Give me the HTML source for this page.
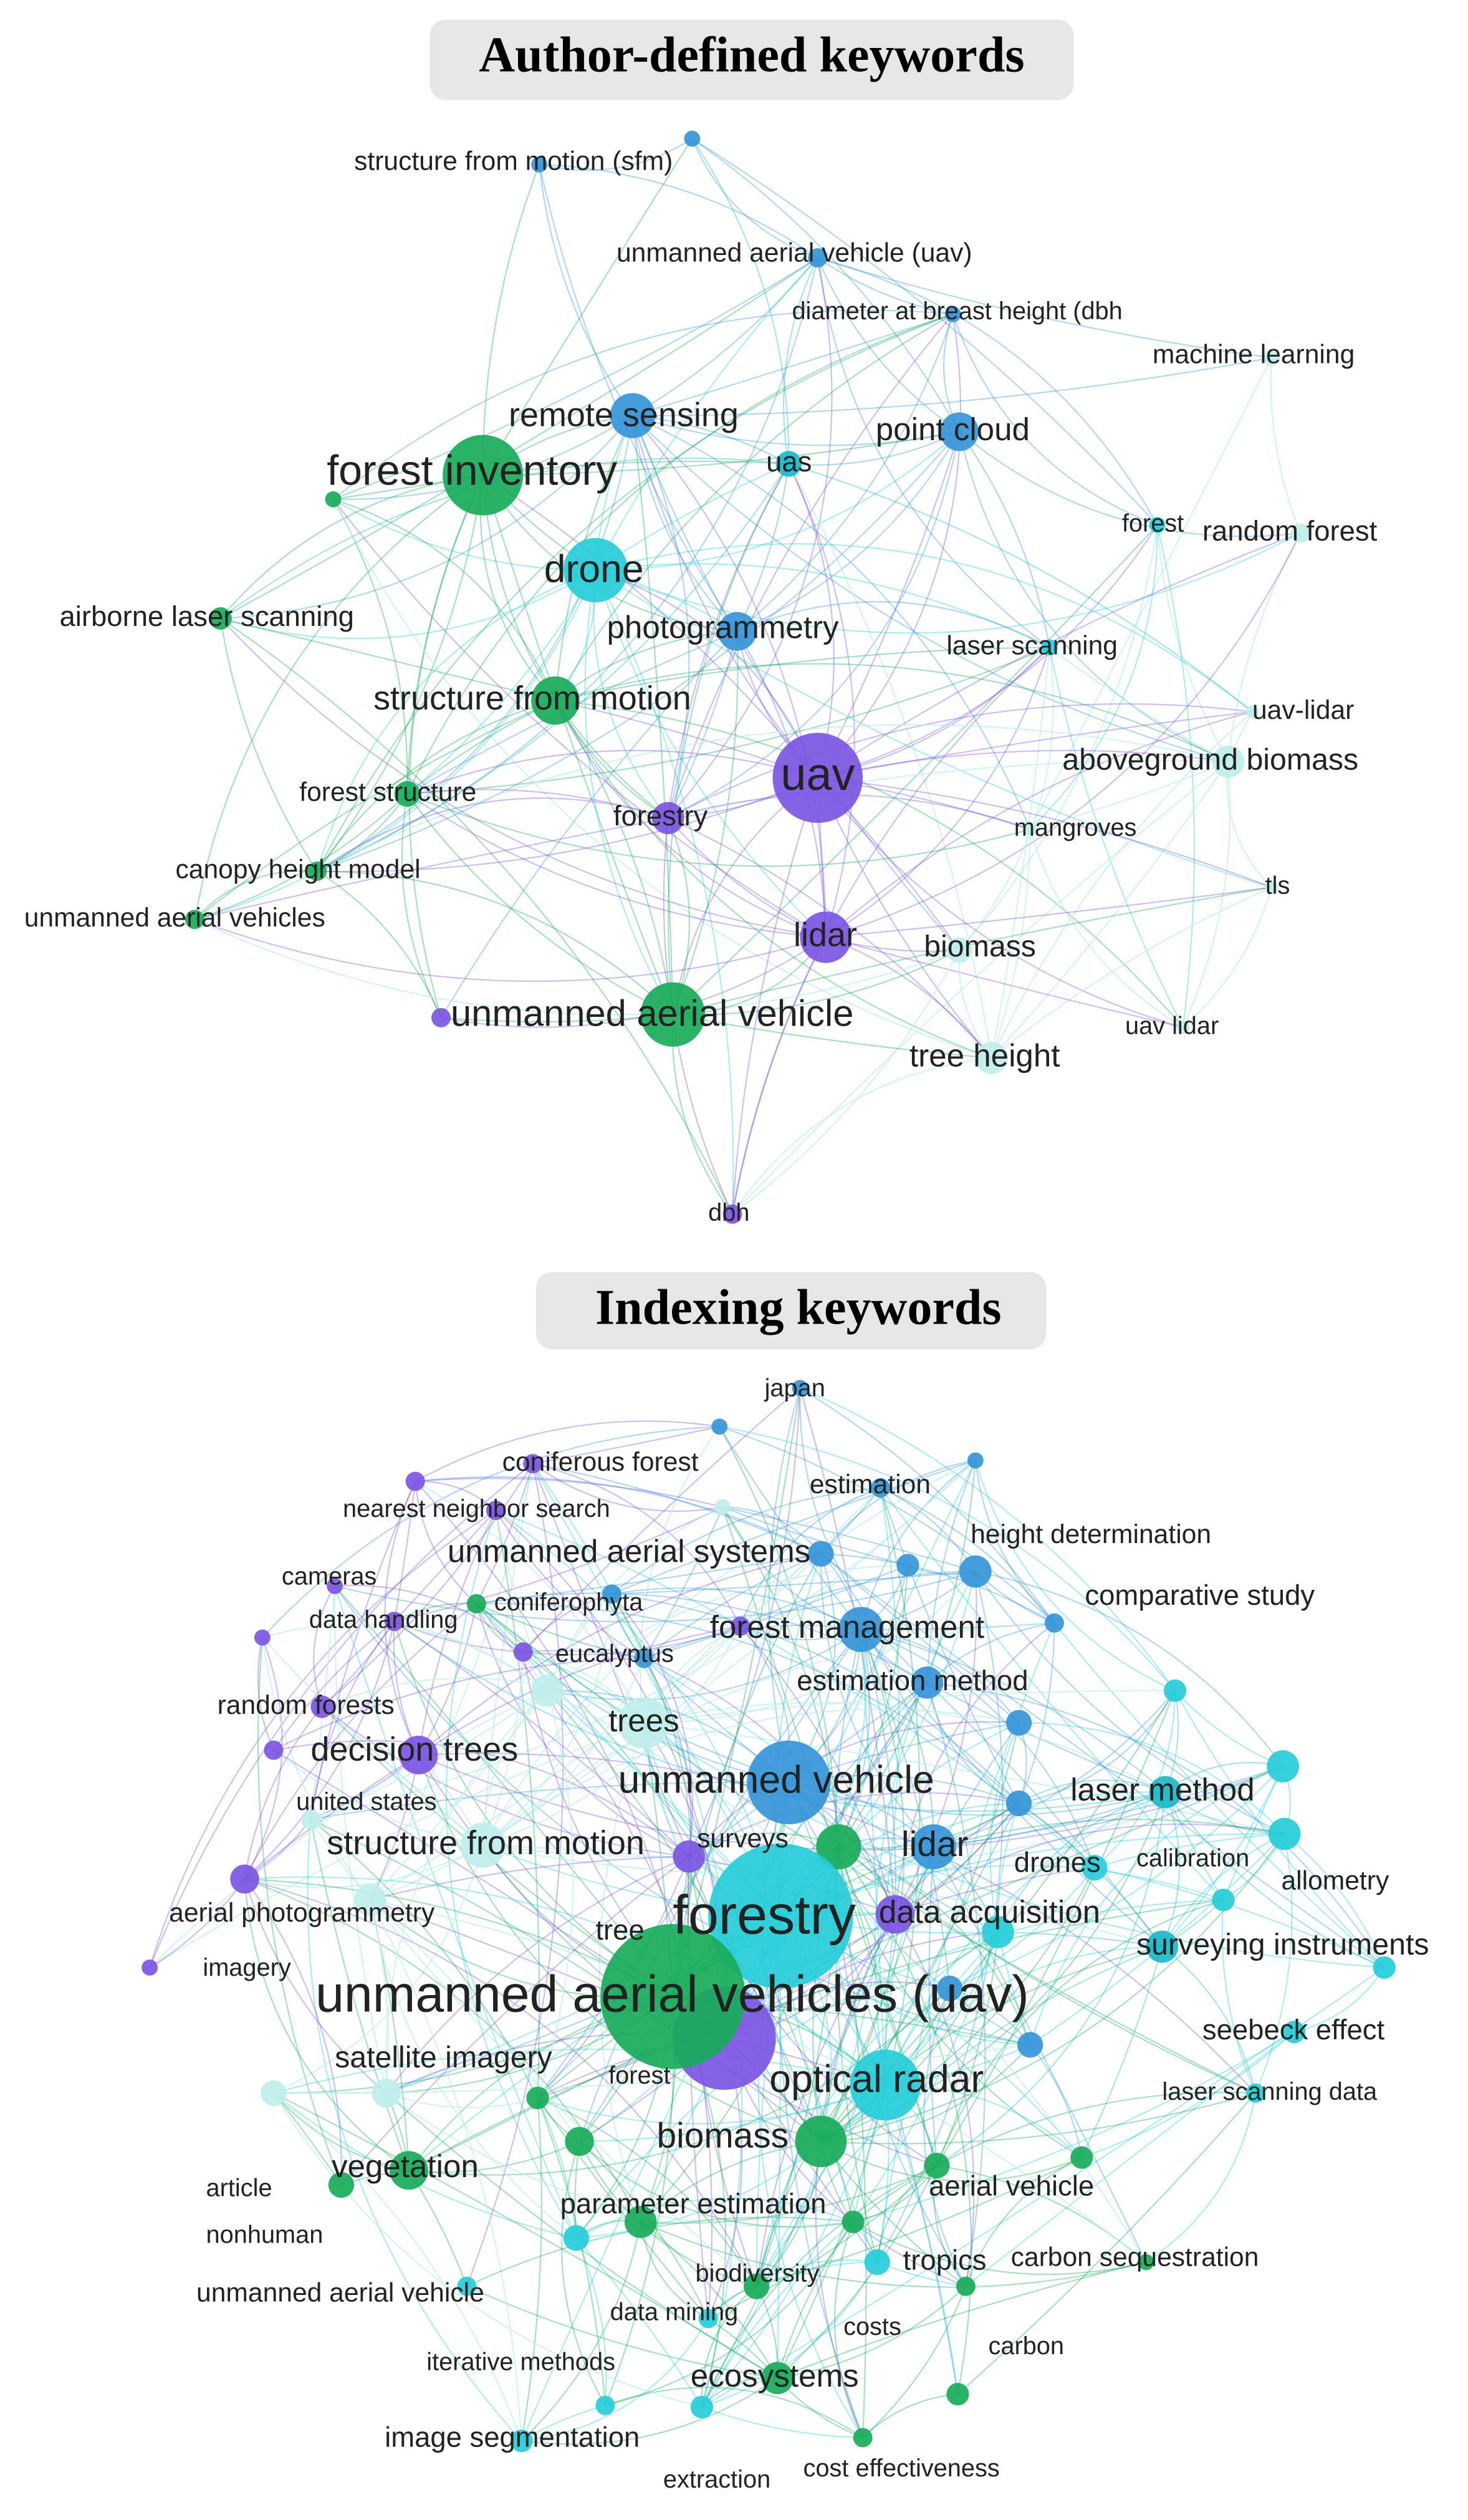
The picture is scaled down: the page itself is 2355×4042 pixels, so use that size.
<!DOCTYPE html>
<html><head><meta charset="utf-8">
<style>
html,body{margin:0;padding:0;background:#fff;}
svg{display:block;}
text{font-family:"Liberation Sans",sans-serif;fill:#222;dominant-baseline:middle;}
.t{font-family:"Liberation Serif",serif;font-weight:bold;fill:#000;}
</style></head>
<body>
<svg id="s" width="2355" height="4042" viewBox="0 0 912 1565" xmlns="http://www.w3.org/2000/svg">
<rect x="267" y="12" width="400" height="50" rx="10" fill="#e6e6e6"/>
<text class="t" x="467" y="37" font-size="31" text-anchor="middle">Author-defined keywords</text>
<rect x="333" y="790" width="317" height="48" rx="10" fill="#e6e6e6"/>
<text class="t" x="496" y="815" font-size="31" text-anchor="middle">Indexing keywords</text>
<g id="edges" fill="none"></g>
<g id="nodes"></g>
<g id="labels"></g>
</svg>
<script>
(function(){
var C={p:"#7c55e3",b:"#3595d8",t:"#1ab9c9",c:"#25cdd9",g:"#18ab5a",l:"#bfeeea",lc:"#9fe2ea"};
var topN=[
[335,102,5,'b'],[430,86,5,'b'],[508,160,6,'b'],[592,195,5,'b'],[790,222,5,'l'],
[393,258,14,'b'],[596,268,12,'b'],[300,295,25,'g'],[490,288,8,'t'],[207,310,5,'g'],
[719,326,5,'c'],[808,331,6,'l'],[370,354,20,'c'],[137,384,7,'g'],[458,392,12,'b'],
[652,402,5,'c'],[345,435,15,'g'],[778,442,4,'l'],[763,473,10,'l'],[508,483,28,'p'],
[253,493,8,'g'],[415,508,10,'p'],[640,515,4,'l'],[197,541,6,'g'],[790,551,4,'l'],
[121,571,6,'g'],[513,582,16,'p'],[596,590,8,'l'],[418,630,20,'g'],[274,632,6,'p'],
[735,638,4,'l'],[616,657,10,'l'],[455,754,6,'p']];
var botN=[
[497,862,5,'b'],[331,909,6,'p'],[447,886,5,'b'],[606,907,5,'b'],[449,936,5,'l'],
[547,924,6,'b'],[308,938,6,'p'],[258,920,6,'p'],[606,976,10,'b'],[510,965,8,'b'],
[564,972,7,'b'],[208,985,5,'p'],[296,996,6,'g'],[655,1008,6,'b'],[245,1007,6,'p'],
[535,1012,14,'b'],[325,1026,6,'p'],[163,1017,5,'p'],[576,1045,10,'b'],[200,1060,7,'p'],
[400,1070,16,'l'],[260,1090,12,'p'],[170,1087,6,'p'],[193,1130,6,'l'],[490,1107,26,'b'],
[724,1113,10,'t'],[797,1097,10,'c'],[798,1139,10,'c'],[300,1146,14,'l'],[428,1153,10,'p'],
[580,1147,14,'b'],[521,1147,14,'g'],[485,1190,45,'c'],[556,1189,12,'p'],[152,1167,9,'p'],
[722,1209,10,'t'],[93,1222,5,'p'],[418,1240,45,'g'],[450,1266,32,'p'],[804,1262,7,'c'],
[550,1295,22,'c'],[334,1303,7,'g'],[510,1330,16,'g'],[254,1348,12,'g'],[212,1357,8,'g'],
[582,1345,8,'g'],[398,1380,10,'g'],[358,1390,8,'c'],[712,1405,5,'g'],[545,1405,8,'c'],
[595,1487,7,'g'],[483,1477,10,'g'],[324,1516,7,'c'],[536,1514,6,'g'],[436,1495,7,'c'],
[376,1494,6,'c'],[633,1070,8,'b'],[633,1120,8,'b'],[730,1050,7,'c'],[760,1180,7,'c'],
[860,1222,7,'c'],[672,1340,7,'g'],[780,1300,6,'c'],[230,1180,10,'l'],[170,1300,8,'l'],
[240,1300,9,'l'],[340,1050,10,'l'],[620,1200,10,'c'],[640,1270,8,'b'],[470,1420,8,'g'],
[440,1440,6,'c'],[600,1420,6,'g'],[400,1030,6,'b'],[460,1010,6,'p'],[380,990,6,'b'],
[680,1160,8,'c'],[360,1330,9,'g'],[290,1420,6,'c'],[530,1380,7,'g'],[590,1235,8,'b']];
var tl=[
["structure from motion (sfm)",220,101,15],["unmanned aerial vehicle (uav)",383,158,15],
["diameter at breast height (dbh",492,194,14],["machine learning",716,221,15],
["remote sensing",316,259,19],["point cloud",544,268,18],["forest inventory",203,294,24],
["uas",476,288,16],["forest",697,326,14],["random forest",747,331,16],["drone",338,355,22],
["airborne laser scanning",37,384,16],["photogrammetry",377,391,18],["laser scanning",588,402,15],
["structure from motion",232,435,19],["uav-lidar",778,442,15],["aboveground biomass",660,473,17],
["uav",485,483,26],["forest structure",186,493,15],["forestry",381,508,16],["mangroves",630,515,14],
["canopy height model",109,541,15],["tls",786,551,14],["unmanned aerial vehicles",15,571,15],
["lidar",493,582,19],["biomass",574,589,17],["unmanned aerial vehicle",280,631,21],
["uav lidar",699,638,14],["tree height",565,657,18],["dbh",440,754,14]];
var bl=[
["japan",475,863,14],["coniferous forest",312,909,15],["estimation",503,923,15],
["nearest neighbor search",213,938,14],["height determination",603,954,15],
["unmanned aerial systems",278,965,18],["cameras",175,980,14],["coniferophyta",307,996,14],
["comparative study",674,992,16],["data handling",192,1007,14],["forest management",441,1012,18],
["eucalyptus",345,1028,14],["estimation method",495,1045,16],["random forests",135,1060,15],
["trees",378,1070,18],["decision trees",193,1088,19],["united states",184,1120,14],
["unmanned vehicle",384,1107,22],["laser method",665,1113,18],["structure from motion",203,1146,19],
["surveys",433,1143,15],["lidar",560,1147,20],["drones",630,1158,16],["calibration",706,1155,14],
["allometry",796,1169,15],["forestry",418,1192,31],["data acquisition",546,1189,18],
["aerial photogrammetry",105,1189,15],["tree",370,1200,16],["surveying instruments",706,1209,17],
["imagery",126,1223,14],["unmanned aerial vehicles (uav)",196,1241,29],["seebeck effect",747,1262,16],
["satellite imagery",208,1279,17],["forest",378,1290,14],["optical radar",478,1293,22],
["laser scanning data",722,1300,14],["biomass",408,1328,20],["vegetation",206,1347,18],
["article",128,1360,14],["nonhuman",128,1389,14],["aerial vehicle",577,1359,16],
["parameter estimation",348,1370,16],["carbon sequestration",628,1403,15],["tropics",561,1405,16],
["biodiversity",432,1413,14],["unmanned aerial vehicle",122,1425,15],["data mining",379,1437,14],
["costs",524,1446,14],["carbon",614,1458,14],["iterative methods",265,1468,14],
["ecosystems",429,1477,18],["image segmentation",239,1515,16],["extraction",412,1541,14],
["cost effectiveness",499,1534,14]];
var seed=7;function rnd(){seed=(seed*16807)%2147483647;return seed/2147483647;}
var NS="http://www.w3.org/2000/svg";
var E=document.getElementById('edges'),N=document.getElementById('nodes'),L=document.getElementById('labels');
function edges(arr,scale,dens){
 for(var i=0;i<arr.length;i++)for(var j=i+1;j<arr.length;j++){
  var a=arr[i],b=arr[j],dx=b[0]-a[0],dy=b[1]-a[1],d=Math.sqrt(dx*dx+dy*dy);
  var w=Math.sqrt(a[2]*b[2])/8;var p=dens*w*Math.exp(-d/scale);
  if(rnd()<p){
   var k=(rnd()-0.5)*0.5;var cx=(a[0]+b[0])/2-dy*k,cy=(a[1]+b[1])/2+dx*k;
   var src=a[2]>=b[2]?a:b;
   var pa=document.createElementNS(NS,'path');
   pa.setAttribute('d','M'+a[0]+' '+a[1]+' Q'+cx+' '+cy+' '+b[0]+' '+b[1]);
   pa.setAttribute('stroke',C[src[3]]);pa.setAttribute('stroke-opacity',src[3]=='l'?0.7:0.38);
   pa.setAttribute('stroke-width',0.85);E.appendChild(pa);
  }}
}
function nodes(arr){arr.slice().sort(function(a,b){return a[2]-b[2];}).forEach(function(n){
 var c=document.createElementNS(NS,'circle');c.setAttribute('cx',n[0]);c.setAttribute('cy',n[1]);
 c.setAttribute('r',n[2]);c.setAttribute('fill',C[n[3]]);c.setAttribute('fill-opacity',0.92);N.appendChild(c);});}
function labels(arr){arr.forEach(function(l){var t=document.createElementNS(NS,'text');
 t.setAttribute('x',l[1]);t.setAttribute('y',l[2]);t.setAttribute('font-size',(l[3]*1.1).toFixed(1));
 t.textContent=l[0];L.appendChild(t);});}
edges(topN,230,1.4);edges(botN,150,0.85);
nodes(topN);nodes(botN);labels(tl);labels(bl);
})();
</script>
</body></html>
